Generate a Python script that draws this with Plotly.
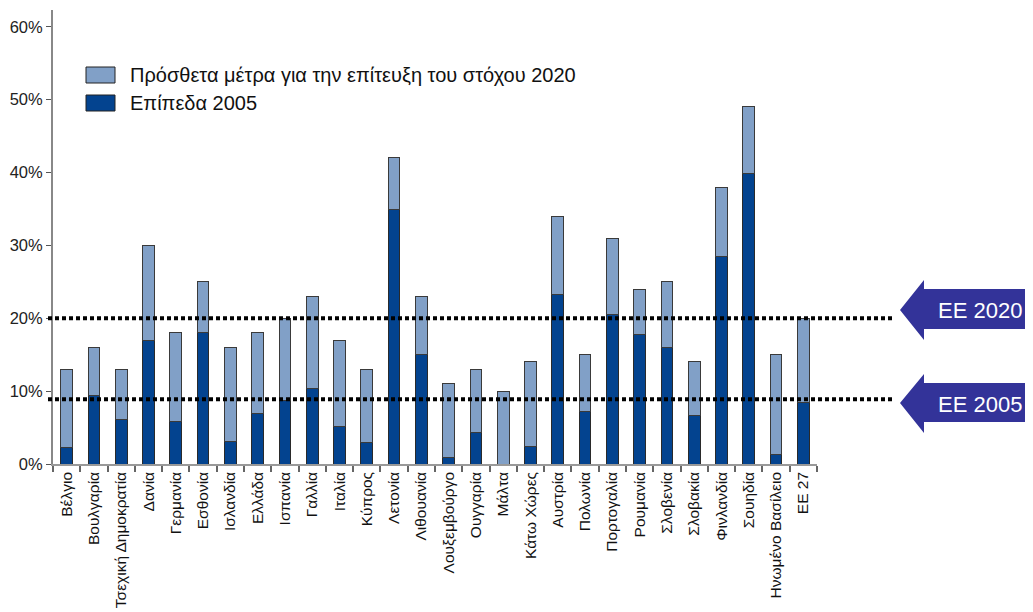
import plotly.graph_objects as go

countries = ["Βέλγιο", "Βουλγαρία", "Τσεχική Δημοκρατία", "Δανία", "Γερμανία", "Εσθονία",
             "Ισλανδία", "Ελλάδα", "Ισπανία", "Γαλλία", "Ιταλία", "Κύπρος", "Λετονία",
             "Λιθουανία", "Λουξεμβούργο", "Ουγγαρία", "Μάλτα", "Κάτω Χώρες", "Αυστρία",
             "Πολωνία", "Πορτογαλία", "Ρουμανία", "Σλοβενία", "Σλοβακία", "Φινλανδία",
             "Σουηδία", "Ηνωμένο Βασίλειο", "ΕΕ 27"]
level_2005 = [2.2, 9.4, 6.1, 17.0, 5.8, 18.0, 3.1, 6.9, 8.7, 10.3, 5.2, 2.9, 34.9,
              15.0, 0.9, 4.3, 0.0, 2.4, 23.3, 7.2, 20.5, 17.8, 16.0, 6.7, 28.5,
              39.8, 1.3, 8.5]
target_2020 = [13, 16, 13, 30, 18, 25, 16, 18, 20, 23, 17, 13, 42,
               23, 11, 13, 10, 14, 34, 15, 31, 24, 25, 14, 38,
               49, 15, 20]
extra_measures = [round(t - b, 1) for t, b in zip(target_2020, level_2005)]

series_names = ["Πρόσθετα μέτρα για την επίτευξη του στόχου 2020", "Επίπεδα 2005"]
ref_lines = {"EE 2020": 20.0, "EE 2005": 8.9}
y_ticks = [0, 10, 20, 30, 40, 50, 60]
y_tick_labels = [f"{v}%" for v in y_ticks]

DARK = "#03438F"
LIGHT = "#81A0C7"
ARROW = "#333399"
FONT = "Liberation Sans, Arial, sans-serif"

OFF = 8  # page body margin
W, H = 1033 - OFF, 612 - OFF
# plot area in screen pixels
SL, SR, ST, SB = 53, 817, 10, 464
L, R_EDGE, T, B_EDGE = SL - OFF, SR - OFF, ST - OFF, SB - OFF
Y_MAX = 62.3


def px(xs):
    return (xs - SL) / (SR - SL)


def py(ys):
    return (SB - ys) / (SB - ST)


fig = go.Figure()
fig.add_trace(go.Bar(x=countries, y=level_2005, name=series_names[1], marker_color=DARK,
                     marker_line=dict(color="#2a2a2a", width=1), width=0.43, showlegend=False))
fig.add_trace(go.Bar(x=countries, y=extra_measures, name=series_names[0], marker_color=LIGHT,
                     marker_line=dict(color="#3a3a3a", width=1), width=0.43, showlegend=False))

shapes = []
annotations = []
# reference dotted lines
for label, val in ref_lines.items():
    shapes.append(dict(type="line", xref="paper", yref="paper", x0=px(48), x1=px(895),
                       y0=val / Y_MAX, y1=val / Y_MAX,
                       line=dict(color="black", width=4, dash="4px,3px")))

# arrows
arrow_specs = [("EE 2020", 310, 289, 329, 280, 340), ("EE 2005", 403, 383, 422, 374, 433)]
for text, yc, bt, bb, ht, hb in arrow_specs:
    tip_x, base_x, end_x = 900, 924, 1040
    path = (f"M {px(tip_x)},{py(yc)} L {px(base_x)},{py(ht)} L {px(base_x)},{py(bt)} "
            f"L {px(end_x)},{py(bt)} L {px(end_x)},{py(bb)} L {px(base_x)},{py(bb)} "
            f"L {px(base_x)},{py(hb)} Z")
    shapes.append(dict(type="path", xref="paper", yref="paper", path=path,
                       fillcolor=ARROW, line=dict(width=0)))
    annotations.append(dict(xref="paper", yref="paper", x=px(980), y=py(yc + 1), text=text,
                            showarrow=False, xanchor="center", yanchor="middle",
                            font=dict(family=FONT, size=22, color="white")))

# manual legend
legend_items = [(series_names[0], LIGHT, 67, 83), (series_names[1], DARK, 95, 111)]
for name, col, y0, y1 in legend_items:
    shapes.append(dict(type="rect", xref="paper", yref="paper", x0=px(86), x1=px(115),
                       y0=py(y1), y1=py(y0), fillcolor=col,
                       line=dict(color="#222222", width=1)))
    annotations.append(dict(xref="paper", yref="paper", x=px(128), y=py((y0 + y1) / 2),
                            text=name, showarrow=False, xanchor="left", yanchor="middle",
                            font=dict(family=FONT, size=20, color="#111111")))

fig.update_layout(
    width=W, height=H,
    barmode="stack",
    margin=dict(l=L, r=W - R_EDGE, t=T, b=H - B_EDGE, autoexpand=False),
    paper_bgcolor="white", plot_bgcolor="white",
    font=dict(family=FONT, color="#111111"),
    shapes=shapes, annotations=annotations,
    showlegend=False,
    xaxis=dict(type="category", tickangle=-90, tickson="boundaries", ticks="outside",
               ticklen=6, tickcolor="#666666", tickwidth=1.5,
               showline=True, linecolor="#999999", linewidth=1.5,
               showgrid=False, tickfont=dict(family=FONT, size=15.5, color="#111111")),
    yaxis=dict(range=[0, Y_MAX], tickvals=y_ticks, ticktext=y_tick_labels,
               ticks="outside", ticklen=5, tickcolor="#555555", tickwidth=1,
               showline=True, linecolor="#888888", linewidth=2,
               showgrid=False, zeroline=False,
               tickfont=dict(family=FONT, size=16.5, color="#222222")),
)

fig.write_html("out.html")
